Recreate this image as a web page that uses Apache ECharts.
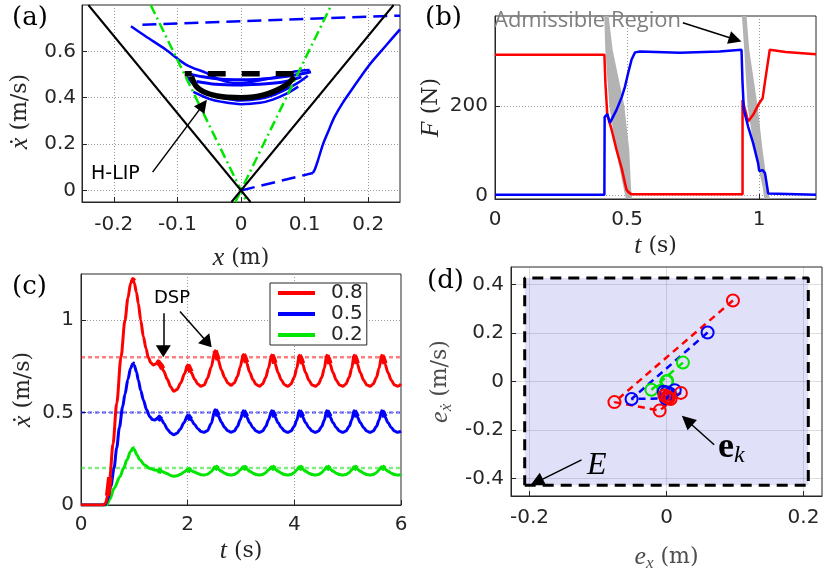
<!DOCTYPE html>
<html><head><meta charset="utf-8">
<script src="https://cdn.jsdelivr.net/npm/echarts@6/dist/echarts.min.js"></script>
<style>html,body{margin:0;padding:0;background:#fff}#c{width:832px;height:569px}</style>
</head><body><div id="c"></div>
<script>
// ================= DATA =================
// ---- Panel (a): phase portrait ----
const aXTicks = [-0.2, -0.1, 0, 0.1, 0.2];
const aYTicks = [0, 0.2, 0.4, 0.6];
const aBlackNeg = [[-0.24, 0.8], [0.015, -0.05]];
const aBlackPos = [[-0.015, -0.05], [0.24, 0.8]];
const aGreenNeg = [[-0.142, 0.8], [0.0089, -0.05]];
const aGreenPos = [[-0.0089, -0.05], [0.142, 0.8]];
const aBlueDashTop = [[-0.155, 0.715], [0.25, 0.754]];
const aBlueDashBottom = [[0, 0], [0.113, 0.075]];
const aBlueRise = [[0.113,0.075],[0.116,0.09],[0.121,0.13],[0.129,0.2],[0.138,0.26],[0.147,0.317],[0.16,0.378],[0.174,0.434],[0.2,0.535],[0.227,0.622],[0.25,0.695]];
const aBlueOrbit1 = [[-0.173,0.708],[-0.15,0.665],[-0.118,0.607],[-0.086,0.542],[-0.054,0.506],[-0.033,0.477],[-0.006,0.463],[0.02,0.47],[0.057,0.49],[0.084,0.513],[0.108,0.52]];
const aBlueOrbit2 = [[-0.085,0.49],[-0.07,0.445],[-0.05,0.418],[-0.03,0.4],[0,0.388],[0.03,0.395],[0.05,0.41],[0.07,0.435],[0.09,0.465],[0.105,0.495]];
const aBlueOrbit3 = [[-0.075,0.425],[-0.05,0.395],[-0.03,0.382],[0,0.372],[0.03,0.378],[0.05,0.392],[0.07,0.415],[0.09,0.448]];
const aBlueDSP1 = [[-0.085,0.505],[-0.06,0.49],[-0.03,0.48],[0,0.478],[0.03,0.48],[0.06,0.488],[0.09,0.5],[0.11,0.512]];
const aBlueDSP2 = [[-0.07,0.47],[-0.04,0.458],[0,0.455],[0.04,0.46],[0.07,0.47],[0.095,0.49]];
const aHlip = [[-0.078,0.492],[-0.07,0.448],[-0.054,0.42],[-0.035,0.406],[-0.022,0.402],[0,0.4],[0.02,0.403],[0.036,0.412],[0.05,0.425],[0.0626,0.441],[0.075,0.463],[0.0837,0.49]];
const aHlipDSP = [[-0.0885, 0.503], [0.089, 0.503]];
const aArrow = [[-0.139, 0.079], [-0.0597, 0.369]];

// ---- Panel (b): forces ----
const bXTicks = [0, 0.5, 1];
const bYTicks = [0, 200];
const bRed = [[0,314],[0.414,314],[0.418,250],[0.425,180],[0.44,150],[0.46,102],[0.48,60],[0.492,28],[0.498,13],[0.505,8],[0.517,3],[0.937,3],[0.937,213],[0.958,165],[0.977,180],[1.0,206],[1.013,217],[1.022,254],[1.04,325],[1.1,320],[1.215,315]];
const bBlue = [[0,2],[0.414,2],[0.415,175],[0.425,182],[0.435,162],[0.46,191],[0.48,220],[0.492,243],[0.504,273],[0.517,303],[0.53,319],[0.549,321],[0.7,318],[0.85,321],[0.933,325],[0.937,250],[0.942,191],[0.958,154],[0.977,117],[0.996,72],[1.0,55],[1.007,57],[1.013,57],[1.022,50],[1.028,28],[1.034,5],[1.04,2],[1.215,2]];
const bWedge1 = [[0.4137,400],[0.4174,325],[0.4326,200],[0.4578,102],[0.4856,20],[0.4956,-7],[0.5183,-7],[0.5146,20],[0.5082,102],[0.4894,200],[0.4452,325],[0.430,400]];
const bWedge2 = [[0.9345,400],[0.9434,325],[0.956,200],[0.9812,102],[1.0128,20],[1.019,-7],[1.0405,-7],[1.0317,20],[1.0128,102],[0.9938,200],[0.9623,325],[0.9522,400]];
const bArrow = [[0.711, 385], [0.9094, 347.6]];

// ---- Panel (c): velocity vs time ----
const cXTicks = [0, 2, 4, 6];
const cYTicks = [0, 0.5, 1];
const cLegendNames = ['0.8', '0.5', '0.2'];
const cTargets = [0.8, 0.5, 0.2];
const cRed = [[0,0],[0.42,0],[0.46,0.01],[0.5,0.05],[0.54,0.15],[0.6,0.33],[0.67,0.55],[0.75,0.8],[0.825,1.0],[0.88,1.12],[0.93,1.2],[0.97,1.225],[1.0,1.2],[1.04,1.15],[1.075,1.09],[1.12,1.0],[1.17,0.91],[1.22,0.845],[1.26,0.8],[1.31,0.77],[1.356,0.758],[1.41,0.765],[1.45,0.78],[1.5,0.755],[1.55,0.725],[1.62,0.68],[1.68,0.64],[1.74,0.615],[1.8,0.625],[1.87,0.66],[1.94,0.71],[2.0,0.758],
[2.03,0.74],[2.07,0.715],[2.13,0.68],[2.19,0.655],[2.25,0.643],[2.31,0.65],[2.37,0.685],[2.44,0.745],[2.513,0.835],
[2.543,0.81],[2.573,0.785],[2.633,0.73],[2.693,0.69],[2.753,0.66],[2.813,0.648],[2.873,0.66],[2.933,0.695],[2.983,0.745],[3.044,0.815],
[3.074,0.795],[3.104,0.77],[3.164,0.718],[3.224,0.678],[3.284,0.652],[3.344,0.643],[3.404,0.655],[3.464,0.69],[3.514,0.74],[3.576,0.812],
[3.606,0.792],[3.636,0.767],[3.696,0.716],[3.756,0.676],[3.816,0.651],[3.876,0.642],[3.936,0.655],[3.996,0.69],[4.046,0.74],[4.093,0.81],
[4.123,0.79],[4.153,0.765],[4.213,0.715],[4.273,0.675],[4.333,0.65],[4.393,0.642],[4.453,0.655],[4.513,0.69],[4.563,0.74],[4.607,0.81],
[4.637,0.79],[4.667,0.765],[4.727,0.715],[4.787,0.675],[4.847,0.65],[4.907,0.642],[4.967,0.655],[5.027,0.69],[5.077,0.74],[5.119,0.81],
[5.149,0.79],[5.179,0.765],[5.239,0.715],[5.299,0.675],[5.359,0.65],[5.419,0.642],[5.479,0.655],[5.539,0.69],[5.589,0.74],[5.638,0.81],
[5.668,0.79],[5.698,0.765],[5.758,0.715],[5.818,0.675],[5.878,0.65],[5.938,0.642],[6.0,0.655]];
const cBlue = [[0,0],[0.45,0],[0.5,0.03],[0.56,0.1],[0.62,0.2],[0.67,0.31],[0.72,0.42],[0.78,0.53],[0.825,0.6],[0.88,0.68],[0.93,0.74],[0.97,0.765],[1.0,0.755],[1.04,0.72],[1.075,0.677],[1.12,0.62],[1.17,0.568],[1.23,0.515],[1.29,0.478],[1.34,0.462],[1.39,0.46],[1.43,0.47],[1.47,0.482],[1.51,0.462],[1.56,0.44],[1.62,0.41],[1.68,0.39],[1.74,0.38],[1.8,0.388],[1.86,0.41],[1.93,0.445],[2.0,0.485],
[2.03,0.475],[2.07,0.46],[2.13,0.435],[2.19,0.413],[2.25,0.398],[2.31,0.393],[2.37,0.402],[2.44,0.44],[2.513,0.515],
[2.543,0.5],[2.573,0.482],[2.633,0.448],[2.693,0.42],[2.753,0.402],[2.813,0.394],[2.873,0.4],[2.933,0.425],[2.983,0.46],[3.044,0.51],
[3.074,0.495],[3.104,0.478],[3.164,0.445],[3.224,0.418],[3.284,0.4],[3.344,0.393],[3.404,0.4],[3.464,0.425],[3.514,0.46],[3.576,0.51],
[3.606,0.495],[3.636,0.478],[3.696,0.445],[3.756,0.418],[3.816,0.4],[3.876,0.393],[3.936,0.4],[3.996,0.425],[4.046,0.46],[4.093,0.51],
[4.123,0.495],[4.153,0.478],[4.213,0.445],[4.273,0.418],[4.333,0.4],[4.393,0.393],[4.453,0.4],[4.513,0.425],[4.563,0.46],[4.607,0.51],
[4.637,0.495],[4.667,0.478],[4.727,0.445],[4.787,0.418],[4.847,0.4],[4.907,0.393],[4.967,0.4],[5.027,0.425],[5.077,0.46],[5.119,0.51],
[5.149,0.495],[5.179,0.478],[5.239,0.445],[5.299,0.418],[5.359,0.4],[5.419,0.393],[5.479,0.4],[5.539,0.425],[5.589,0.46],[5.638,0.51],
[5.668,0.495],[5.698,0.478],[5.758,0.445],[5.818,0.418],[5.878,0.4],[5.938,0.393],[6.0,0.4]];
const cGreen = [[0,0],[0.48,0],[0.54,0.03],[0.62,0.09],[0.73,0.153],[0.8,0.2],[0.86,0.243],[0.93,0.29],[0.97,0.307],[1.0,0.3],[1.05,0.27],[1.1,0.245],[1.2,0.215],[1.29,0.198],[1.38,0.19],[1.47,0.186],[1.53,0.18],[1.61,0.171],[1.68,0.16],[1.74,0.155],[1.8,0.158],[1.87,0.167],[1.94,0.18],[2.0,0.193],
[2.03,0.19],[2.07,0.185],[2.13,0.178],[2.19,0.17],[2.25,0.164],[2.31,0.162],[2.37,0.166],[2.44,0.18],[2.513,0.207],
[2.543,0.202],[2.573,0.195],[2.633,0.183],[2.693,0.172],[2.753,0.165],[2.813,0.162],[2.873,0.165],[2.933,0.175],[2.983,0.19],[3.044,0.207],
[3.074,0.202],[3.104,0.195],[3.164,0.183],[3.224,0.172],[3.284,0.165],[3.344,0.162],[3.404,0.165],[3.464,0.175],[3.514,0.19],[3.576,0.207],
[3.606,0.202],[3.636,0.195],[3.696,0.183],[3.756,0.172],[3.816,0.165],[3.876,0.162],[3.936,0.165],[3.996,0.175],[4.046,0.19],[4.093,0.207],
[4.123,0.202],[4.153,0.195],[4.213,0.183],[4.273,0.172],[4.333,0.165],[4.393,0.162],[4.453,0.165],[4.513,0.175],[4.563,0.19],[4.607,0.207],
[4.637,0.202],[4.667,0.195],[4.727,0.183],[4.787,0.172],[4.847,0.165],[4.907,0.162],[4.967,0.165],[5.027,0.175],[5.077,0.19],[5.119,0.207],
[5.149,0.202],[5.179,0.195],[5.239,0.183],[5.299,0.172],[5.359,0.165],[5.419,0.162],[5.479,0.165],[5.539,0.175],[5.589,0.19],[5.638,0.207],
[5.668,0.202],[5.698,0.195],[5.758,0.183],[5.818,0.172],[5.878,0.165],[5.938,0.162],[6.0,0.165]];
const cRedDSP = [[[0.5,0.05],[0.54,0.15]],[[0.96,1.222],[0.99,1.21]],[[1.44,0.775],[1.5,0.755],[1.53,0.737]],[[2.0,0.758],[2.03,0.74],[2.06,0.72]],[[2.513,0.835],[2.543,0.81],[2.573,0.785]],[[3.044,0.815],[3.074,0.795],[3.104,0.77]],[[3.576,0.812],[3.606,0.792],[3.636,0.767]],[[4.093,0.81],[4.123,0.79],[4.153,0.765]],[[4.607,0.81],[4.637,0.79],[4.667,0.765]],[[5.119,0.81],[5.149,0.79],[5.179,0.765]],[[5.638,0.81],[5.668,0.79],[5.698,0.765]]];
const cBlueDSP = [[[0.96,0.765],[0.99,0.76]],[[1.44,0.475],[1.47,0.482],[1.51,0.462]],[[2.0,0.485],[2.03,0.475],[2.06,0.462]],[[2.513,0.515],[2.543,0.5],[2.573,0.482]],[[3.044,0.51],[3.074,0.495],[3.104,0.478]],[[3.576,0.51],[3.606,0.495],[3.636,0.478]],[[4.093,0.51],[4.123,0.495],[4.153,0.478]],[[4.607,0.51],[4.637,0.495],[4.667,0.478]],[[5.119,0.51],[5.149,0.495],[5.179,0.478]],[[5.638,0.51],[5.668,0.495],[5.698,0.478]]];
const cGreenDSP = [[[0.96,0.305],[0.99,0.302]],[[1.44,0.187],[1.47,0.186],[1.51,0.182]],[[2.0,0.193],[2.03,0.19],[2.06,0.186]],[[2.513,0.207],[2.543,0.202],[2.573,0.195]],[[3.044,0.207],[3.074,0.202],[3.104,0.195]],[[3.576,0.207],[3.606,0.202],[3.636,0.195]],[[4.093,0.207],[4.123,0.202],[4.153,0.195]],[[4.607,0.207],[4.637,0.202],[4.667,0.195]],[[5.119,0.207],[5.149,0.202],[5.179,0.195]],[[5.638,0.207],[5.668,0.202],[5.698,0.195]]];
const cArrow1 = [[1.543, 1.037], [1.543, 0.832]];
const cArrow2 = [[1.856, 1.047], [2.375, 0.878]];

// ---- Panel (d): error set ----
const dXTicks = [-0.2, 0, 0.2];
const dYTicks = [-0.4, -0.2, 0, 0.2, 0.4];
const dSetE = [[-0.207,-0.428],[0.207,-0.428],[0.207,0.427],[-0.207,0.427]];
const dRed = [[0.097,0.334],[-0.076,-0.085],[-0.01,-0.12],[0.021,-0.047],[0.003,-0.068],[-0.003,-0.058],[0.006,-0.072],[0.001,-0.063]];
const dBlue = [[0.06,0.202],[-0.051,-0.072],[-0.001,-0.07],[0.012,-0.036],[-0.004,-0.042],[0.005,-0.05],[0.0,-0.045]];
const dGreen = [[0.024,0.078],[-0.022,-0.034],[0.0,0.0],[0.001,0.002]];
const dArrowEk = [[0.0696,-0.261],[0.030,-0.1605]];
const dArrowE = [[-0.124,-0.323],[-0.1896,-0.415]];

// ================= CHART =================
const TXT = '#262626';
const SERIF = 'DejaVu Serif';
const ISERIF = 'Liberation Serif';
const RED = '#ff0000', BLUE = '#0000ff', GREEN = '#00e600', BLACK = '#000000';

function nameStyle(color, extra) {
  return Object.assign({
    fontFamily: SERIF, fontSize: 22, color: color, lineHeight: 30,
    rich: {
      i: {fontFamily: ISERIF, fontStyle: 'italic', fontSize: 26, color: color, lineHeight: 30},
      s: {fontFamily: ISERIF, fontStyle: 'italic', fontSize: 17, color: color, lineHeight: 30, verticalAlign: 'bottom'}
    }
  }, extra || {});
}
function axis(grid, min, max, ticks, margin, name, nameGap, nameColor, gridLine, extraName) {
  return {
    type: 'value', gridIndex: grid, min: min, max: max,
    axisLine: {show: true, onZero: false, lineStyle: {color: TXT, width: 1}},
    axisTick: {show: true, inside: true, length: 5, customValues: ticks, lineStyle: {color: TXT}},
    axisLabel: {customValues: ticks, margin: margin, fontFamily: 'DejaVu Sans', fontSize: 20, color: TXT},
    splitLine: {show: true, lineStyle: gridLine},
    name: name, nameLocation: 'middle', nameGap: nameGap,
    nameTextStyle: nameStyle(nameColor, extraName)
  };
}
const dotted = {color: '#9a9a9a', type: [1, 2], width: 1};
const faint = {color: 'rgba(0,0,0,0.13)', type: 'solid', width: 1};

function line(xi, data, color, width, type, extra) {
  return Object.assign({
    type: 'line', xAxisIndex: xi, yAxisIndex: xi, data: data, showSymbol: false, symbol: 'none',
    color: color, itemStyle: {color: color},
    lineStyle: {color: color, width: width, type: type || 'solid', cap: 'butt'},
    silent: true, animation: false, clip: true, z: 3
  }, extra || {});
}
function poly(xi, pts, fill, z) {
  return {
    type: 'custom', xAxisIndex: xi, yAxisIndex: xi, data: [pts[0]], silent: true, animation: false, clip: true, z: z || 2,
    renderItem: function (params, api) {
      return {type: 'polygon', shape: {points: pts.map(function (p) { return api.coord(p); })}, style: {fill: fill}};
    }
  };
}
function arrows(list, size) {
  return {
    silent: true, animation: false, symbol: ['none', 'triangle'], symbolSize: size || [13, 12],
    label: {show: false}, emphasis: {disabled: true},
    lineStyle: {color: BLACK, width: 1.5, type: 'solid'}, itemStyle: {color: BLACK},
    data: list.map(function (a) { return [{coord: a[0]}, {coord: a[1]}]; })
  };
}
function joinSegs(segs) {
  const out = [];
  segs.forEach(function (s, i) { if (i) out.push([s[0][0], null]); s.forEach(function (p) { out.push(p); }); });
  return out;
}

const gridBase = {show: true, borderColor: TXT, borderWidth: 1, backgroundColor: '#fff', containLabel: false, outerBoundsMode: 'none'};
const option = {
  animation: false,
  backgroundColor: '#fff',
  grid: [
    Object.assign({left: 82, top: 5, width: 318, height: 197}, gridBase),
    Object.assign({left: 495, top: 16, width: 321, height: 183}, gridBase),
    Object.assign({left: 81, top: 274, width: 320, height: 231}, gridBase),
    Object.assign({left: 511, top: 267, width: 311, height: 229}, gridBase)
  ],
  xAxis: [
    axis(0, -0.25, 0.25, aXTicks, 13, '{i|x} (m)', 41, TXT, dotted),
    axis(1, 0, 1.215, bXTicks, 11, '{i|t} (s)', 31, TXT, dotted),
    axis(2, 0, 6, cXTicks, 10, '{i|t} (s)', 29, TXT, dotted),
    axis(3, -0.227, 0.227, dXTicks, 12, '{i|e}{s|x} (m)', 46, '#4d4d4d', faint)
  ],
  yAxis: [
    axis(0, -0.05, 0.8, aYTicks, 6, '{i|x\u0307} (m/s)', 47, TXT, dotted, {padding: [0, 16, 0, 0]}),
    axis(1, -7.3, 400, bYTicks, 7, '{i|F} (N)', 47, TXT, dotted),
    axis(2, 0, 1.25, cYTicks, 7, '{i|x\u0307} (m/s)', 43, TXT, dotted),
    axis(3, -0.472, 0.472, dYTicks, 7, '{i|e}{s|x\u0307} (m/s)', 56, '#4d4d4d', faint)
  ],
  legend: {
    show: true, left: 270, top: 283, orient: 'vertical', icon: 'rect', itemWidth: 37, itemHeight: 4, itemGap: 1,
    padding: [0, 4, 0, 8], borderColor: TXT, borderWidth: 1, backgroundColor: '#fff', selectedMode: false,
    textStyle: {fontFamily: 'DejaVu Sans', fontSize: 20, color: TXT, lineHeight: 19.5, padding: [0, 0, 0, 11]},
    data: cLegendNames
  },
  series: [
    // (a)
    line(0, aBlueDashTop, BLUE, 2.5, [14, 7]),
    line(0, aBlueDashBottom, BLUE, 2.5, [14, 7]),
    line(0, aBlueRise, BLUE, 2.5, 'solid', {smooth: 0.3}),
    line(0, aBlueOrbit1, BLUE, 2.5, 'solid', {smooth: 0.3}),
    line(0, aBlueOrbit2, BLUE, 2.5, 'solid', {smooth: 0.3}),
    line(0, aBlueOrbit3, BLUE, 2.5, 'solid', {smooth: 0.3}),
    line(0, aBlueDSP1, BLUE, 3, 'solid', {smooth: 0.3}),
    line(0, aBlueDSP2, BLUE, 3, 'solid', {smooth: 0.3}),
    line(0, aGreenNeg, GREEN, 2.5, [10, 4, 2, 4]),
    line(0, aGreenPos, GREEN, 2.5, [10, 4, 2, 4]),
    line(0, aBlackNeg, BLACK, 2),
    line(0, aBlackPos, BLACK, 2),
    line(0, aHlip, BLACK, 5.5, 'solid', {smooth: 0.3, z: 4}),
    line(0, aHlipDSP, BLACK, 5.5, [18, 16], {z: 4, lineStyle: {color: BLACK, width: 5.5, type: [18, 16], dashOffset: 11}, markLine: arrows([aArrow], [13, 13])}),
    // (b)
    poly(1, bWedge1, '#b3b3b3'),
    poly(1, bWedge2, '#b3b3b3'),
    line(1, bRed, RED, 2.5),
    line(1, bBlue, BLUE, 2.5, 'solid', {markLine: arrows([bArrow], [13, 13])}),
    // (c)
    line(2, [[0, cTargets[0]], [6, cTargets[0]]], 'rgba(255,0,0,0.5)', 2.5, [4, 3], {z: 2}),
    line(2, [[0, cTargets[1]], [6, cTargets[1]]], 'rgba(0,0,255,0.5)', 2.5, [4, 3], {z: 2}),
    line(2, [[0, cTargets[2]], [6, cTargets[2]]], 'rgba(0,220,0,0.5)', 2.5, [4, 3], {z: 2}),
    line(2, cGreen, GREEN, 3, 'solid', {name: cLegendNames[2], smooth: 0.3, smoothMonotone: 'x'}),
    line(2, cBlue, BLUE, 3, 'solid', {name: cLegendNames[1], smooth: 0.3, smoothMonotone: 'x'}),
    line(2, cRed, RED, 3, 'solid', {name: cLegendNames[0], smooth: 0.3, smoothMonotone: 'x'}),
    line(2, joinSegs(cGreenDSP), GREEN, 5.5, 'solid', {z: 4}),
    line(2, joinSegs(cBlueDSP), BLUE, 5.5, 'solid', {z: 4}),
    line(2, joinSegs(cRedDSP), RED, 5.5, 'solid', {z: 4, markLine: arrows([cArrow1, cArrow2], [15, 12])}),
    // (d)
    poly(3, dSetE, 'rgba(60,60,220,0.16)', 1),
    line(3, dSetE.concat([dSetE[0]]), BLACK, 3, [11, 7], {z: 2}),
    line(3, dGreen, GREEN, 2.5, [7, 5], {showSymbol: true, symbol: 'circle', symbolSize: 12, itemStyle: {color: 'rgba(0,0,0,0)', borderColor: GREEN, borderWidth: 2}}),
    line(3, dBlue, BLUE, 2.5, [7, 5], {showSymbol: true, symbol: 'circle', symbolSize: 12, itemStyle: {color: 'rgba(0,0,0,0)', borderColor: BLUE, borderWidth: 2}}),
    line(3, dRed, RED, 2.5, [7, 5], {showSymbol: true, symbol: 'circle', symbolSize: 12, itemStyle: {color: 'rgba(0,0,0,0)', borderColor: RED, borderWidth: 2}, markLine: arrows([dArrowEk, dArrowE], [14, 14])})
  ],
  graphic: [
    {type: 'text', left: 12, top: 5, z: 100, style: {text: '(a)', font: '26px "DejaVu Serif"', fill: '#000'}},
    {type: 'text', left: 425, top: 5, z: 100, style: {text: '(b)', font: '26px "DejaVu Serif"', fill: '#000'}},
    {type: 'text', left: 12, top: 274, z: 100, style: {text: '(c)', font: '26px "DejaVu Serif"', fill: '#000'}},
    {type: 'text', left: 427, top: 268, z: 100, style: {text: '(d)', font: '26px "DejaVu Serif"', fill: '#000'}},
    {type: 'text', left: 91, top: 165, z: 100, style: {text: 'H-LIP', font: '19px "DejaVu Sans"', fill: '#000'}},
    {type: 'text', left: 154, top: 289, z: 100, style: {text: 'DSP', font: '18px "DejaVu Sans"', fill: '#000'}},
    {type: 'text', left: 494, top: 10, z: 100, style: {text: 'Admissible Region', font: '22px "Open Sans"', fill: '#808080'}},
    {type: 'text', left: 587, top: 450, z: 100, style: {text: 'E', font: 'italic 32px "Liberation Serif"', fill: '#000'}},
    {type: 'text', left: 718, top: 430, z: 100, style: {text: '{b|e}{k|k}', rich: {
      b: {font: 'bold 36px "Liberation Serif"', fill: '#000', lineHeight: 40, verticalAlign: 'middle'},
      k: {font: 'italic 24px "Liberation Serif"', fill: '#000', lineHeight: 40, verticalAlign: 'bottom'}}}}
  ]
};
const chart = echarts.init(document.getElementById('c'));
chart.setOption(option);
</script>
</body></html>
